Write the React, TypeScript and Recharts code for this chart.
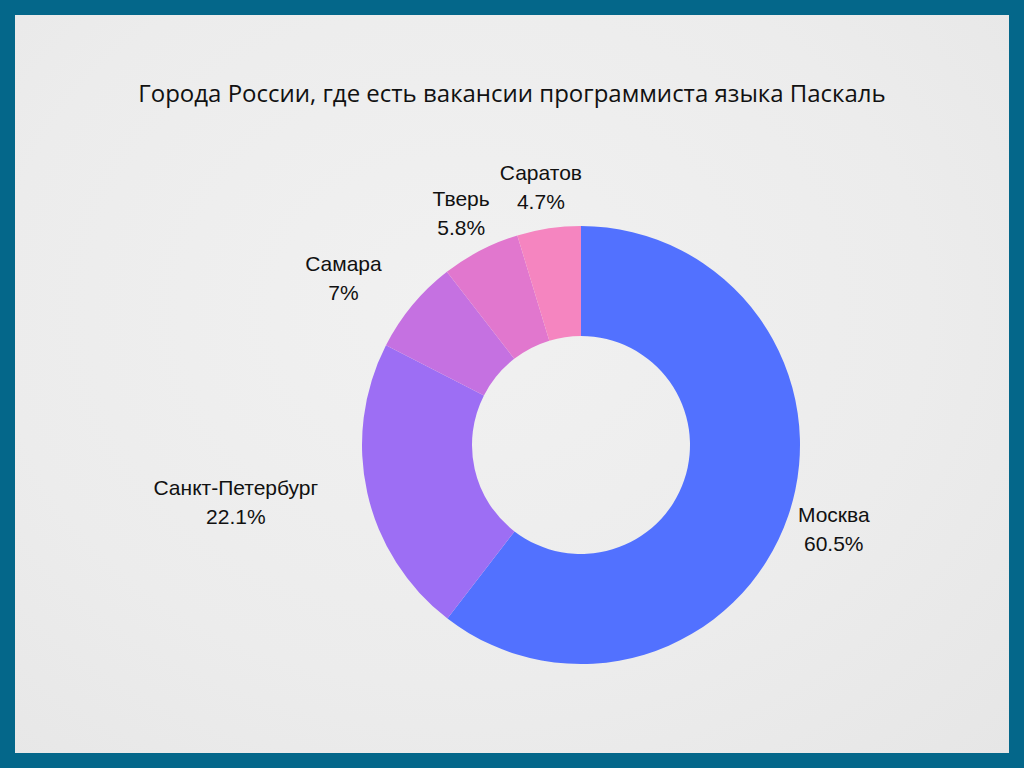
import React from 'react';
import { PieChart, Pie, Cell } from 'recharts';

const cities = ['Москва', 'Санкт-Петербург', 'Самара', 'Тверь', 'Саратов'];
const shares = [60.5, 22.1, 7, 5.8, 4.7];
const colors = ['#5271FF', '#9D6EF4', '#C571E1', '#E177CE', '#F585C0'];
const title = 'Города России, где есть вакансии программиста языка Паскаль';

const data = cities.map((name, i) => ({ name, value: shares[i] }));

const RAD = Math.PI / 180;

const renderLabel = (props: any) => {
  const { cx, cy, midAngle, outerRadius, name, value } = props;
  const dx = Math.cos(-midAngle * RAD);
  const dy = Math.sin(-midAngle * RAD);
  const r = outerRadius + 12;
  const ax = cx + dx * r;
  const ay = cy + dy * r;
  const pct = `${value}%`;
  const w = Math.max(String(name).length, pct.length) * 12;
  const h = 60;
  let x = ax + (dx * w) / 2;
  const y = ay + (dy * h) / 2;
  if (dx < -0.6) x -= 32;
  return (
    <text
      x={x}
      y={y}
      textAnchor="middle"
      fill="#111"
      style={{ fontFamily: '"Liberation Sans", Arial, sans-serif', fontSize: 21 }}
    >
      <tspan x={x} y={y - 14.5} dominantBaseline="central">{name}</tspan>
      <tspan x={x} y={y + 14.5} dominantBaseline="central">{pct}</tspan>
    </text>
  );
};

export default function App() {
  return (
    <div style={{ position: 'absolute', left: 0, top: 0, width: 1024, height: 768, background: '#04678A' }}>
      <div
        style={{
          position: 'absolute',
          left: 15,
          top: 15,
          width: 994,
          height: 738,
          background: 'radial-gradient(ellipse at 45% 40%, #f1f1f1 0%, #ececec 60%, #e6e6e6 100%)',
        }}
      />
      <div
        style={{
          position: 'absolute',
          left: 0,
          top: 77,
          width: 1024,
          textAlign: 'center',
          fontFamily: '"Open Sans", sans-serif',
          fontSize: 24,
          color: '#111',
          lineHeight: '32px',
        }}
      >
        {title}
      </div>
      <div style={{ position: 'absolute', left: 0, top: 0 }}>
        <PieChart width={1024} height={768} margin={{ top: 0, right: 0, bottom: 0, left: 0 }}>
          <Pie
            data={data}
            dataKey="value"
            nameKey="name"
            cx={581}
            cy={445}
            innerRadius={109}
            outerRadius={219}
            startAngle={90}
            endAngle={-270}
            stroke="none"
            label={renderLabel}
            labelLine={false}
            isAnimationActive={false}
          >
            {data.map((d, i) => (
              <Cell key={d.name} fill={colors[i]} />
            ))}
          </Pie>
        </PieChart>
      </div>
    </div>
  );
}
